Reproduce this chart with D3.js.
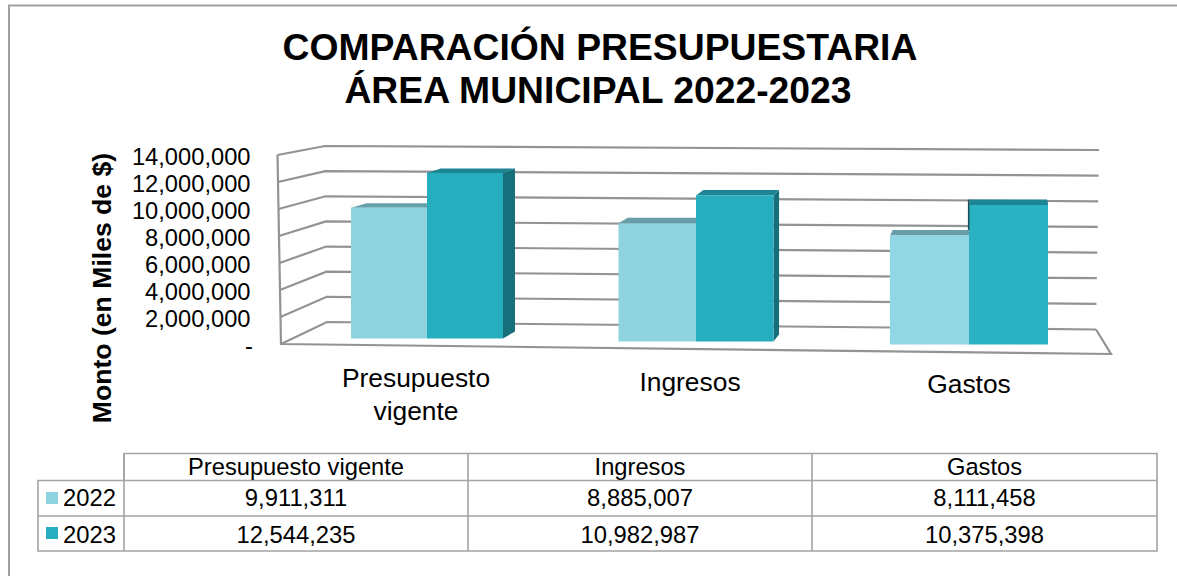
<!DOCTYPE html>
<html><head><meta charset="utf-8">
<script src="https://cdn.jsdelivr.net/npm/d3@7"></script>
<style>html,body{margin:0;padding:0;background:#fff}svg{display:block}text{font-family:"Liberation Sans",Arial,sans-serif;fill:#000}</style>
</head><body><svg id="c" width="1177" height="576"></svg>
<script>
const titleLines = ["COMPARACIÓN PRESUPUESTARIA", "ÁREA MUNICIPAL 2022-2023"];
const yTitle = "Monto (en Miles de $)";
const categories = ["Presupuesto vigente", "Ingresos", "Gastos"];
const categoryLabelLines = [["Presupuesto", "vigente"], ["Ingresos"], ["Gastos"]];
const seriesNames = ["2022", "2023"];
const values2022 = [9911311, 8885007, 8111458];
const values2023 = [12544235, 10982987, 10375398];
const tickValues = [0, 2000000, 4000000, 6000000, 8000000, 10000000, 12000000, 14000000];
const seriesValues = [values2022, values2023];

const colors = {front:["#8dd4e0","#26aebf"], frontFar:["#91d7e3","#2ab2c4"], top:["#669fa9","#1c8493"], side:["#5f9aa3","#166f7a"], edge:"#1d4f56"};
const svg = d3.select("#c");
const fmt = d3.format(",");

// chart frame
svg.append("path").attr("d","M9,576V5.5H1177").attr("fill","none").attr("stroke","#a0a0a0").attr("stroke-width",2);

// title
svg.append("g").selectAll("text").data(titleLines).join("text")
  .attr("x",(d,i)=>i===0?600:598).attr("y",(d,i)=>60+i*43).attr("text-anchor","middle")
  .attr("font-size",37.3).attr("font-weight","bold").text(d=>d);

// 3D walls: value -> position on each edge of the box
const dom=[0,14000000];
const frontX=d3.scaleLinear(dom,[281,277.5]), frontY=d3.scaleLinear(dom,[344,155]);
const backLX=d3.scaleLinear(dom,[327,325]), backLY=d3.scaleLinear(dom,[322,146]);
const backRX=d3.scaleLinear(dom,[1096,1099]), backRY=d3.scaleLinear(dom,[329.5,150]);
const gridG=svg.append("g").attr("fill","none").attr("stroke","#939393").attr("stroke-width",2.2);
gridG.selectAll("path.grid").data(tickValues).join("path").attr("class","grid")
  .attr("d",v=>d3.line()([[frontX(v),frontY(v)],[backLX(v),backLY(v)],[backRX(v),backRY(v)]]));
gridG.append("path").attr("d",d3.line()([[frontX(dom[1]),frontY(dom[1])],[frontX(0),frontY(0)],[1111,354],[backRX(0),backRY(0)]]));

// tick labels
svg.append("g").selectAll("text").data(tickValues).join("text")
  .attr("x",v=>v===0?253:250.5).attr("y",v=>frontY(v)+10).attr("text-anchor","end")
  .attr("font-size",23.7).text(v=>v===0?"-":fmt(v));

// y title
svg.append("text").attr("transform","translate(111,288) rotate(-90)").attr("text-anchor","middle")
  .attr("font-size",26.6).attr("font-weight","bold").text(yTitle);

// bars
const idx=[0,1,2];
const centerX=d3.scaleLinear(idx,[427,696,969]);
const barW=d3.scaleLinear(idx,[76,77.5,79]);
const baseY=d3.scaleLinear(idx,[338.5,341.5,344.5]);
const pxPerVal=d3.scaleLinear(idx,[13.2e-6,13.3e-6,13.45e-6]);
const depthX=d3.scaleLinear([503,1048],[12,-1]);
const depthTop=d3.scaleLinear(idx,[-4.5,-5.5,-5.5]), depthBottom=-7;
const poly=p=>d3.line()(p)+"Z";
const barsG=svg.append("g");
seriesValues.forEach((vals,s)=>{
  vals.forEach((v,c)=>{
    const x0=s===0?centerX(c)-barW(c):centerX(c), x1=x0+barW(c);
    const yb=baseY(c), yt=yb-v*pxPerVal(c);
    const dl=depthX(x0), dr=depthX(x1), dt=depthTop(c);
    const g=barsG.append("g");
    if(s===1){
      g.append("path").attr("d",poly([[x1,yt],[x1+dr,yt+dt],[x1+dr,yb+depthBottom],[x1,yb]])).attr("fill",colors.side[s]);
    }
    g.append("path").attr("d",poly([[x0,yt],[x0+dl,yt+dt],[x1+dr,yt+dt],[x1,yt]])).attr("fill",colors.top[s]);
    g.append("rect").attr("x",x0).attr("y",yt).attr("width",x1-x0).attr("height",yb-yt)
      .attr("fill",c===2?colors.frontFar[s]:colors.front[s]);
  });
});
// back-left edge of the taller bar where its depth leans left
categories.forEach((n,c)=>{
  const x=centerX(c);
  if(depthX(x)<=1 && values2023[c]>values2022[c]){
    const yb=baseY(c);
    barsG.append("line").attr("x1",x-0.3).attr("x2",x-0.3)
      .attr("y1",yb-values2023[c]*pxPerVal(c)+depthTop(c))
      .attr("y2",yb-values2022[c]*pxPerVal(c)+depthTop(c))
      .attr("stroke",colors.edge).attr("stroke-width",1.6);
  }
});

// category labels
const labelBase=d3.scaleLinear(idx,[387,391,393]);
const labelX=d3.scaleLinear(idx,[416,690,969]);
categoryLabelLines.forEach((lines,c)=>{
  svg.append("g").selectAll("text").data(lines).join("text")
    .attr("x",labelX(c)).attr("y",(d,i)=>labelBase(c)+i*33).attr("text-anchor","middle")
    .attr("font-size",26.4).text(d=>d);
});

// data table
const colX=d3.scaleLinear([0,1,2,3],[124,468,812,1157]);
const rowY=[453.5,480.5,516,551];
const tG=svg.append("g").attr("stroke","#a3a3a3").attr("stroke-width",1.6).attr("fill","none");
tG.append("path").attr("d",`M${colX(0)},${rowY[1]}V${rowY[0]}H${colX(3)}V${rowY[3]}H38V${rowY[1]}H${colX(3)}M38,${rowY[2]}H${colX(3)}`);
[0,1,2].forEach(i=>tG.append("line").attr("x1",colX(i)).attr("x2",colX(i)).attr("y1",rowY[0]).attr("y2",rowY[3]));
categories.forEach((n,c)=>{
  svg.append("text").attr("x",(colX(c)+colX(c+1))/2).attr("y",rowY[0]+21).attr("text-anchor","middle").attr("font-size",23.7).text(n);
  seriesValues.forEach((vals,s)=>{
    svg.append("text").attr("x",(colX(c)+colX(c+1))/2).attr("y",rowY[s+1]+(s===0?25.5:27)).attr("text-anchor","middle").attr("font-size",23.8).text(fmt(vals[c]));
  });
});
seriesNames.forEach((n,s)=>{
  svg.append("rect").attr("x",46).attr("y",rowY[s+1]+(s===0?11.5:11)).attr("width",12).attr("height",12).attr("fill",colors.front[s]);
  svg.append("text").attr("x",63).attr("y",rowY[s+1]+(s===0?25.5:27)).attr("font-size",23.8).text(n);
});
</script></body></html>
